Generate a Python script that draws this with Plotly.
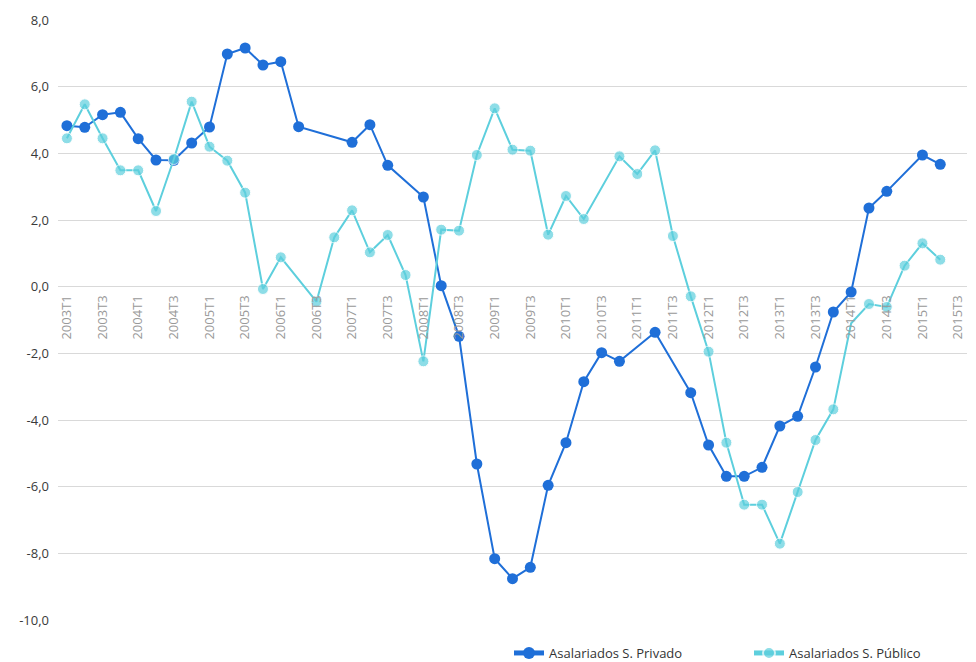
import plotly.graph_objects as go

# ---- data ----
categories = [
    "2003T1", "2003T2", "2003T3", "2003T4",
    "2004T1", "2004T2", "2004T3", "2004T4",
    "2005T1", "2005T2", "2005T3", "2005T4",
    "2006T1", "2006T2", "2006T3", "2006T4",
    "2007T1", "2007T2", "2007T3", "2007T4",
    "2008T1", "2008T2", "2008T3", "2008T4",
    "2009T1", "2009T2", "2009T3", "2009T4",
    "2010T1", "2010T2", "2010T3", "2010T4",
    "2011T1", "2011T2", "2011T3", "2011T4",
    "2012T1", "2012T2", "2012T3", "2012T4",
    "2013T1", "2013T2", "2013T3", "2013T4",
    "2014T1", "2014T2", "2014T3", "2014T4",
    "2015T1", "2015T2", "2015T3",
]

privado = [
    4.83, 4.78, 5.16, 5.23,
    4.44, 3.80, 3.79, 4.31,
    4.79, 6.98, 7.16, 6.65,
    6.75, 4.80, None, None,
    4.33, 4.86, 3.64, None,
    2.69, 0.03, -1.49, -5.32,
    -8.16, -8.76, -8.42, -5.96,
    -4.68, -2.85, -1.98, -2.24,
    None, -1.37, None, -3.18,
    -4.75, -5.69, -5.69, -5.42,
    -4.18, -3.89, -2.41, -0.76,
    -0.16, 2.36, 2.86, None,
    3.95, 3.67, None,
]

publico = [
    4.45, 5.47, 4.45, 3.49,
    3.49, 2.27, 3.83, 5.55,
    4.20, 3.78, 2.82, -0.07,
    0.88, None, -0.45, 1.48,
    2.29, 1.03, 1.55, 0.35,
    -2.24, 1.71, 1.68, 3.95,
    5.35, 4.11, 4.08, 1.56,
    2.72, 2.03, None, 3.91,
    3.38, 4.09, 1.52, -0.29,
    -1.95, -4.68, -6.54, -6.54,
    -7.71, -6.16, -4.60, -3.68,
    -1.10, -0.52, -0.61, 0.63,
    1.30, 0.81, None,
]
publico_no_marker = ["2014T1"]

series_names = ["Asalariados S. Privado", "Asalariados S. Público"]

y_tick_values = [-10, -8, -6, -4, -2, 0, 2, 4, 6, 8]
y_tick_labels = ["-10,0", "-8,0", "-6,0", "-4,0", "-2,0", "0,0", "2,0", "4,0", "6,0", "8,0"]
x_tick_labels = categories[::2]

# ---- styling ----
C_DARK = "#1f6fd8"
C_LIGHT = "#5dcfdd"
FONT = "Open Sans"
MS = 11

y_min, y_max = y_tick_values[0], y_tick_values[-1]
L, R, T, B = 58, 9, 20, 42
PW = 976 - L - R
PH = 662 - T - B


def px_x(p):
    return (p - L) / PW


def px_y(p):
    return (662 - B - p) / PH


fig = go.Figure()
fig.add_trace(go.Scatter(
    x=categories, y=privado, name=series_names[0],
    mode="lines+markers", connectgaps=True,
    line=dict(color=C_DARK, width=2),
    marker=dict(color=C_DARK, size=MS),
    legend="legend",
))
light_sizes = [0 if c in publico_no_marker else MS for c in categories]
fig.add_trace(go.Scatter(
    x=categories, y=publico, name=series_names[1],
    mode="lines+markers", connectgaps=True,
    line=dict(color=C_LIGHT, width=2),
    marker=dict(color=C_LIGHT, size=light_sizes),
    legend="legend2",
))

legend_common = dict(
    orientation="h", xanchor="left", yanchor="middle",
    font=dict(family=FONT, size=13, color="#333333"),
    itemsizing="constant", bgcolor="rgba(0,0,0,0)",
)

fig.update_layout(
    width=976, height=662,
    margin=dict(l=L, r=R, t=T, b=B, autoexpand=False),
    paper_bgcolor="white", plot_bgcolor="white",
    font=dict(family=FONT, color="#333333", size=13),
    showlegend=True,
    legend=dict(x=px_x(509), y=px_y(653), **legend_common),
    legend2=dict(x=px_x(749), y=px_y(653), **legend_common),
    xaxis=dict(
        type="category",
        categoryorder="array", categoryarray=categories,
        range=[-0.5, len(categories) - 0.5],
        anchor="free",
        position=(0 - y_min) / (y_max - y_min),
        showgrid=False, zeroline=False, showline=False,
        ticks="",
        tickmode="array", tickvals=x_tick_labels, ticktext=x_tick_labels,
        tickangle=-90,
        tickfont=dict(family=FONT, size=13, color="#999999"),
        ticklabelstandoff=5,
        automargin=False,
    ),
    yaxis=dict(
        range=[y_min, y_max],
        tickmode="array", tickvals=y_tick_values, ticktext=y_tick_labels,
        showgrid=True, gridcolor="#d9d9d9", gridwidth=1,
        zeroline=False, showline=False, ticks="",
        tickfont=dict(family=FONT, size=13, color="#3a3a3a"),
        ticklabelstandoff=8,
        automargin=False,
    ),
)

fig.write_html(
    "out.html",
    config={"displayModeBar": False},
    post_script="document.body.style.margin='0';document.body.style.overflow='hidden';",
)
